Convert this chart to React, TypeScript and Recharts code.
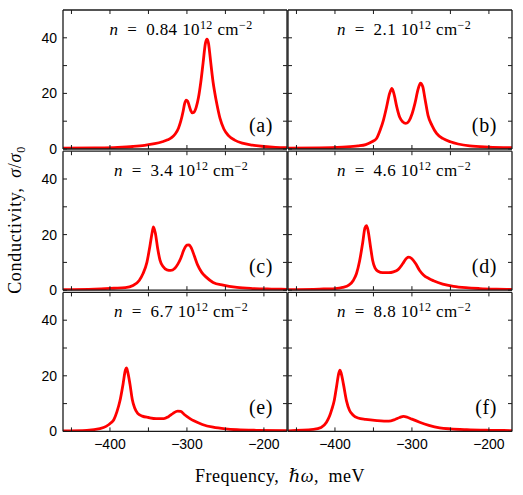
import { LineChart, Line, XAxis, YAxis } from 'recharts';

// frequency (meV) and conductivity (sigma/sigma0)
const freqA = [-461, -420, -390, -370, -355, -342, -332, -325, -320, -315, -311, -308, -305, -303, -301, -299, -297, -295, -293, -291, -288, -285, -282, -279, -276, -274, -272, -270, -268, -266, -264, -261, -257, -252, -246, -238, -228, -215, -200, -185, -170];
const condA = [0.3, 0.4, 0.6, 0.9, 1.3, 1.9, 2.6, 3.3, 4.1, 5.5, 7.5, 10, 13.5, 16.3, 17.6, 17.2, 15.5, 13.8, 13, 13.2, 15, 18.5, 24, 31, 38, 39.5, 38, 33.5, 28.5, 24, 20.5, 16, 11, 7.2, 4.8, 3.2, 2.1, 1.4, 0.9, 0.6, 0.5];

const freqB = [-461, -420, -390, -370, -360, -352, -346, -341, -337, -333, -329, -326, -323, -320, -316, -312, -308, -304, -300, -296, -292, -289, -286, -283, -279, -274, -268, -260, -250, -240, -225, -200, -170];
const condB = [0.3, 0.4, 0.7, 1.1, 1.6, 2.6, 3.8, 7, 10.4, 15, 20, 21.8, 19.5, 15.5, 11.5, 9.8, 9.2, 10, 12.5, 16.5, 21.5, 23.7, 22.5, 18, 12, 8.5, 5.6, 3.8, 2.6, 1.8, 1.1, 0.7, 0.5];

const freqC = [-461, -420, -395, -380, -370, -362, -357, -352, -348, -345, -343.5, -341, -338, -335, -331, -326, -321, -316, -312, -308, -304, -300, -297, -294, -290, -286, -281, -275, -266, -253, -235, -215, -190, -170];
const condC = [0.2, 0.4, 0.7, 0.9, 1.7, 3.5, 6, 10, 16, 21, 22.8, 20.5, 15, 10.8, 8.5, 7.3, 7.1, 7.8, 9.3, 11.5, 14.5, 16.2, 16.3, 15, 12, 9, 6.5, 4.7, 2.8, 1.8, 1, 0.6, 0.4, 0.3];

const freqD = [-461, -420, -400, -390, -382, -376, -372, -368, -364, -361, -359, -357, -354, -351, -348, -344, -338, -330, -324, -318, -312, -307, -304, -300, -295, -290, -285, -278, -272, -260, -246, -230, -212, -190, -170];
const condD = [0.2, 0.4, 0.6, 1, 1.8, 3.6, 6, 10.5, 17, 22.5, 23.2, 21.5, 16, 10.7, 8, 6.8, 6.3, 6.3, 6.6, 7.4, 9.5, 11.5, 11.9, 11.3, 9.5, 7.1, 5.5, 4.2, 3.4, 2.2, 1.4, 0.9, 0.6, 0.4, 0.3];

const freqE = [-461, -430, -413, -405, -399, -395, -391, -387, -383, -380, -378.5, -377, -374, -371, -368, -364, -358, -350, -340, -330, -324, -318, -312, -308, -303, -297, -291, -280, -266, -250, -235, -210, -170];
const condE = [0.2, 0.4, 1, 1.8, 3, 4.2, 7, 11, 17, 22, 22.8, 21.5, 17, 11.5, 8.5, 6.5, 5.5, 5, 4.6, 4.6, 5.3, 6.5, 7.3, 7.2, 6, 4.8, 3.8, 2.5, 1.5, 0.9, 0.6, 0.4, 0.3];

const freqF = [-461, -428, -418, -411, -407, -404, -401, -398, -395, -393.5, -392, -389, -385, -381, -377, -370, -360, -345, -330, -322, -316, -311, -306, -300, -290, -278, -264, -250, -229, -200, -170];
const condF = [0.2, 0.7, 1.4, 3.3, 5.5, 8, 11, 16, 21, 22, 21, 17, 11, 7.5, 6, 4.8, 4.3, 3.9, 3.7, 4.3, 5, 5.4, 5.1, 4.4, 3.3, 2.2, 1.3, 0.9, 0.6, 0.4, 0.3];

const densities = ['0.84', '2.1', '3.4', '4.6', '6.7', '8.8'];
const letters = ['a', 'b', 'c', 'd', 'e', 'f'];

const X_DOMAIN = [-461, -170];
const Y_DOMAIN = [0, 50];
const X_TICKS = [-450, -400, -350, -300, -250, -200];
const Y_TICKS = [0, 10, 20, 30, 40];

const W = 523;
const H = 495;
const PLOT_W = 224;
const PLOT_H = 139;
const COL_LEFT = [63, 288];
const ROW_TOP = [10, 151.2, 292.4];
const Y_W = 40;
const Y_W_R = 5;
const X_H_TOP = 5;
const X_H_BOT = 30;

const FRAME = '#1a1a1a';
const SERIF = '"Liberation Serif", "DejaVu Serif", serif';
const SANS = '"Liberation Sans", Arial, sans-serif';

const panels = [
  { freq: freqA, cond: condA },
  { freq: freqB, cond: condB },
  { freq: freqC, cond: condC },
  { freq: freqD, cond: condD },
  { freq: freqE, cond: condE },
  { freq: freqF, cond: condF },
];

const blankTick = () => <g />;

const xTick = (show: boolean) => (props: any) => {
  const { x, y, payload } = props;
  if (!show || payload.value % 100 !== 0) return <g />;
  return (
    <text x={x} y={y} dy="0.71em" textAnchor="middle" fontFamily={SANS} fontSize={14} fill="#000">
      {String(payload.value).replace('-', '\u2212')}
    </text>
  );
};

const yTick = (show: boolean) => (props: any) => {
  const { x, y, payload } = props;
  if (!show || payload.value % 20 !== 0) return <g />;
  return (
    <text x={x} y={y} dy="0.355em" textAnchor="end" fontFamily={SANS} fontSize={14} fill="#000">
      {payload.value}
    </text>
  );
};

function Panel({ index }: { index: number }) {
  const col = index % 2;
  const row = Math.floor(index / 2);
  const left = COL_LEFT[col];
  const top = ROW_TOP[row];
  const p = panels[index];
  const data = p.freq.map((f, i) => ({ f, s: p.cond[i] }));
  const margin = {
    left: left - Y_W,
    top: top - X_H_TOP,
    right: W - left - PLOT_W - Y_W_R,
    bottom: H - top - PLOT_H - X_H_BOT,
  };
  const axisLine = { stroke: FRAME, strokeWidth: 1.3 };
  const tickLine = { stroke: FRAME, strokeWidth: 1 };

  return (
    <div style={{ position: 'absolute', left: 0, top: 0 }}>
      <LineChart width={W} height={H} data={data} margin={margin}>
        <XAxis xAxisId="b" dataKey="f" type="number" domain={X_DOMAIN} ticks={X_TICKS} interval={0}
          allowDataOverflow orientation="bottom" height={X_H_BOT} tickSize={-4} tickMargin={12}
          tick={xTick(row === 2)} axisLine={axisLine} tickLine={tickLine} />
        <XAxis xAxisId="t" dataKey="f" type="number" domain={X_DOMAIN} ticks={X_TICKS} interval={0}
          allowDataOverflow orientation="top" height={X_H_TOP} tickSize={-4}
          tick={blankTick} axisLine={axisLine} tickLine={tickLine} />
        <YAxis yAxisId="l" type="number" domain={Y_DOMAIN} ticks={Y_TICKS} interval={0}
          allowDataOverflow orientation="left" width={Y_W} tickSize={-4} tickMargin={10}
          tick={yTick(col === 0)} axisLine={axisLine} tickLine={tickLine} />
        <YAxis yAxisId="r" type="number" domain={Y_DOMAIN} ticks={Y_TICKS} interval={0}
          allowDataOverflow orientation="right" width={Y_W_R} tickSize={-4}
          tick={blankTick} axisLine={axisLine} tickLine={tickLine} />
        <Line xAxisId="b" yAxisId="l" dataKey="s" type="monotone" stroke="#ff0000" strokeWidth={2.8}
          dot={false} isAnimationActive={false} />
      </LineChart>
    </div>
  );
}

function Labels() {
  return (
    <svg width={W} height={H} style={{ position: 'absolute', left: 0, top: 0, pointerEvents: 'none' }}>
      {densities.map((d, i) => {
        const col = i % 2;
        const row = Math.floor(i / 2);
        const cx = col === 0 ? 181 : 404;
        const by = ROW_TOP[row] + 25;
        return (
          <text key={d} x={cx} y={by} textAnchor="middle" fontFamily={SERIF} fontSize={17} fill="#000"
            letterSpacing={0.4} style={{ whiteSpace: 'pre' }}>
            <tspan fontStyle="italic">n</tspan>
            <tspan>{'\u2002=\u2002' + d + ' 10'}</tspan>
            <tspan dy={-6.5} fontSize={12}>12</tspan>
            <tspan dy={6.5}>{' cm'}</tspan>
            <tspan dy={-6.5} fontSize={12}>{'\u22122'}</tspan>
          </text>
        );
      })}
      {letters.map((l, i) => {
        const col = i % 2;
        const row = Math.floor(i / 2);
        const rx = col === 0 ? 273 : 497;
        const by = ROW_TOP[row] + 121.5;
        return (
          <text key={l} x={rx} y={by} textAnchor="end" fontFamily={SERIF} fontSize={20} letterSpacing={0.6} fill="#000">
            ({l})
          </text>
        );
      })}
      <text transform="translate(21,220) rotate(-90)" textAnchor="middle" fontFamily={SERIF} fontSize={18}
        letterSpacing={0.7} fill="#000" style={{ whiteSpace: 'pre' }}>
        {'Conductivity,\u2002'}
        <tspan fontStyle="italic">{'\u03c3'}</tspan>/<tspan fontStyle="italic">{'\u03c3'}</tspan>
        <tspan dy={4} fontSize={12}>0</tspan>
      </text>
      <text x={280} y={482} textAnchor="middle" fontFamily={SERIF} fontSize={18} letterSpacing={0.5} fill="#000"
        style={{ whiteSpace: 'pre' }}>
        {'Frequency,\u2002'}<tspan fontStyle="italic">{'\u210f\u03c9'}</tspan>{',\u2002meV'}
      </text>
    </svg>
  );
}

export default function App() {
  return (
    <div style={{ position: 'absolute', left: 0, top: 0, width: W, height: H, background: '#fff' }}>
      {panels.map((_, i) => (
        <Panel key={i} index={i} />
      ))}
      <Labels />
    </div>
  );
}
